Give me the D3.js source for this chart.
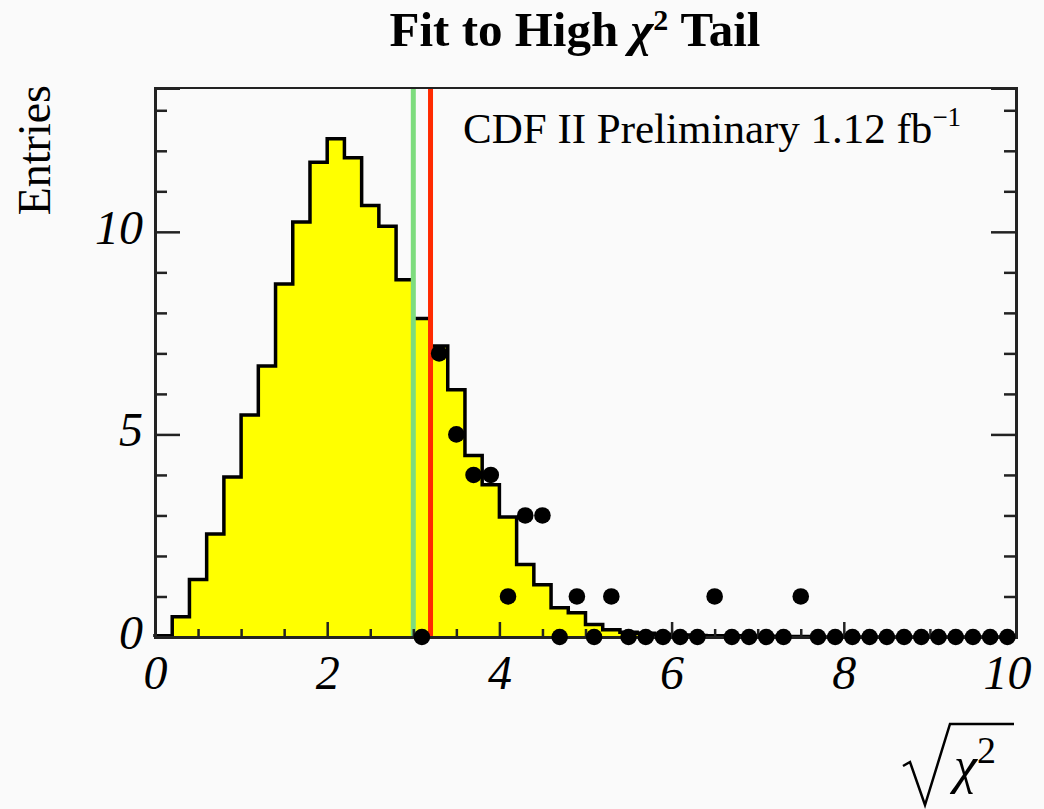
<!DOCTYPE html>
<html>
<head>
<meta charset="utf-8">
<script src="https://cdn.jsdelivr.net/npm/d3@7"></script>
<style>
  body { margin: 0; background: #fafafa; }
  text { font-family: "Liberation Serif", "Times New Roman", serif; fill: #000; }
</style>
</head>
<body>
<div id="chart"></div>
<script>
// histogram (expected shape), 50 bins of 0.2 from 0 to 10
var binWidth = 0.2;
var histCounts = [0.03, 0.50, 1.42, 2.54, 3.95, 5.48, 6.69, 8.71, 10.24, 11.72,
                  12.30, 11.83, 10.65, 10.14, 8.82, 7.86, 7.18, 6.10, 4.48, 3.76,
                  2.96, 1.79, 1.29, 0.72, 0.60, 0.31, 0.18, 0.12, 0.09, 0.07,
                  0.05, 0.04, 0.03, 0.03, 0.02, 0.02, 0.01, 0.01, 0, 0,
                  0, 0, 0, 0, 0, 0, 0, 0, 0, 0];

// data points in the tail
var dataX = [3.1, 3.3, 3.5, 3.7, 3.9, 4.1, 4.3, 4.5, 4.7, 4.9, 5.1, 5.3, 5.5, 5.7, 5.9,
             6.1, 6.3, 6.5, 6.7, 6.9, 7.1, 7.3, 7.5, 7.7, 7.9, 8.1, 8.3, 8.5, 8.7, 8.9,
             9.1, 9.3, 9.5, 9.7, 9.9];
var dataY = [0, 7, 5, 4, 4, 1, 3, 3, 0, 1, 0, 1, 0, 0, 0,
             0, 0, 1, 0, 0, 0, 0, 1, 0, 0, 0, 0, 0, 0, 0,
             0, 0, 0, 0, 0];

// cut lines
var cutValues = [3.0, 3.2];
var cutColors = ["#7ddc7d", "#ff2a00"];

var xMajor = [0, 2, 4, 6, 8, 10];
var xMinor = [0.5, 1, 1.5, 2.5, 3, 3.5, 4.5, 5, 5.5, 6.5, 7, 7.5, 8.5, 9, 9.5];
var yMajor = [0, 5, 10];
var yMinor = [1, 2, 3, 4, 6, 7, 8, 9, 11, 12, 13];

(function() {

var W = 1044, H = 809;
var pLeft = 155, pRight = 1016, pTop = 88, pBottom = 637;

var svg = d3.select("#chart").append("svg")
  .attr("width", W).attr("height", H)
  .style("background", "#fafafa");

var x = d3.scaleLinear().domain([0, 10]).range([pLeft, pRight]);
var y = d3.scaleLinear().domain([0, 13.55]).range([pBottom, pTop]);

// histogram outline points
var pts = [[0, 0]];
histCounts.forEach(function(v, i) {
  pts.push([i * binWidth, v]);
  pts.push([(i + 1) * binWidth, v]);
});
pts.push([10, 0]);

svg.append("path")
  .datum(pts)
  .attr("fill", "#ffff00")
  .attr("stroke", "none")
  .attr("d", d3.area().x(function(d) { return x(d[0]); }).y0(y(0)).y1(function(d) { return y(d[1]); }));

svg.append("path")
  .datum(pts)
  .attr("fill", "none")
  .attr("stroke", "#000")
  .attr("stroke-width", 3.5)
  .attr("d", d3.line().x(function(d) { return x(d[0]); }).y(function(d) { return y(d[1]); }));

// cut lines
svg.selectAll(".cut")
  .data(cutValues)
  .enter().append("line")
  .attr("class", "cut")
  .attr("x1", function(d) { return x(d); })
  .attr("x2", function(d) { return x(d); })
  .attr("y1", pTop)
  .attr("y2", pBottom)
  .attr("stroke", function(d, i) { return cutColors[i]; })
  .attr("stroke-width", 5);

// frame
svg.append("rect")
  .attr("x", pLeft).attr("y", pTop)
  .attr("width", pRight - pLeft).attr("height", pBottom - pTop)
  .attr("fill", "none").attr("stroke", "#222").attr("stroke-width", 2);

// y axis, left (ticks inside)
var yMinAx = svg.append("g").attr("transform", "translate(" + pLeft + ",0)")
  .call(d3.axisLeft(y).tickValues(yMinor).tickSize(-12).tickFormat(""));
var yMajAx = svg.append("g").attr("transform", "translate(" + pLeft + ",0)")
  .call(d3.axisLeft(y).tickValues(yMajor).tickSize(-25).tickPadding(12).tickFormat(d3.format("d")));
// y axis, right (mirror ticks)
var yMinR = svg.append("g").attr("transform", "translate(" + pRight + ",0)")
  .call(d3.axisRight(y).tickValues(yMinor).tickSize(-12).tickFormat(""));
var yMajR = svg.append("g").attr("transform", "translate(" + pRight + ",0)")
  .call(d3.axisRight(y).tickValues(yMajor).tickSize(-25).tickFormat(""));

// x axis
var xMinAx = svg.append("g").attr("transform", "translate(0," + pBottom + ")")
  .call(d3.axisBottom(x).tickValues(xMinor).tickSize(-8).tickFormat(""));
var xMajAx = svg.append("g").attr("transform", "translate(0," + pBottom + ")")
  .call(d3.axisBottom(x).tickValues(xMajor).tickSize(-15).tickPadding(18).tickFormat(d3.format("d")));

[yMinAx, yMajAx, yMinR, yMajR, xMinAx, xMajAx].forEach(function(g) {
  g.select(".domain").attr("stroke", "#222").attr("stroke-width", 3);
  g.selectAll(".tick line").attr("stroke", "#222").attr("stroke-width", 2.5);
});

yMajAx.selectAll(".tick text")
  .attr("font-size", 48).attr("font-style", "italic").attr("dy", "0.24em")
  .style("font-family", "'Liberation Serif', serif");
xMajAx.selectAll(".tick text")
  .attr("font-size", 48).attr("font-style", "italic").attr("dy", "0.71em")
  .style("font-family", "'Liberation Serif', serif");
xMajAx.selectAll(".tick text").filter(function(d) { return d === 10; })
  .attr("dx", -9);

// data points
svg.selectAll(".pt")
  .data(dataX)
  .enter().append("circle")
  .attr("class", "pt")
  .attr("cx", function(d) { return x(d); })
  .attr("cy", function(d, i) { return y(dataY[i]); })
  .attr("r", 8.3)
  .attr("fill", "#000");

// title
var title = svg.append("text")
  .attr("x", 575).attr("y", 46)
  .attr("text-anchor", "middle")
  .attr("font-size", 49).attr("font-weight", "bold");
title.append("tspan").text("Fit to High ");
title.append("tspan").attr("font-style", "italic").text("\u03c7");
title.append("tspan").attr("font-size", 30).attr("dy", -16).text("2");
title.append("tspan").attr("dy", 16).text(" Tail");

// label
var lab = svg.append("text")
  .attr("x", 463).attr("y", 143)
  .attr("font-size", 43);
lab.append("tspan").text("CDF II Preliminary 1.12 fb");
lab.append("tspan").attr("font-size", 27).attr("dy", -17).text("\u22121");

// y title
svg.append("text")
  .attr("transform", "translate(50,85) rotate(-90)")
  .attr("text-anchor", "end")
  .attr("font-size", 46)
  .text("Entries");

// x title: sqrt(chi^2)
svg.append("path")
  .attr("d", "M903,766 L910,762 L925,805 L950,724 L1014,724")
  .attr("fill", "none").attr("stroke", "#000").attr("stroke-width", 2.5)
  .attr("stroke-linejoin", "miter");
var xt = svg.append("text")
  .attr("x", 954).attr("y", 783)
  .attr("font-size", 52);
xt.append("tspan").attr("font-style", "italic").text("\u03c7");
xt.append("tspan").attr("font-size", 38).attr("dy", -20).text("2");

})();
</script>
</body>
</html>
